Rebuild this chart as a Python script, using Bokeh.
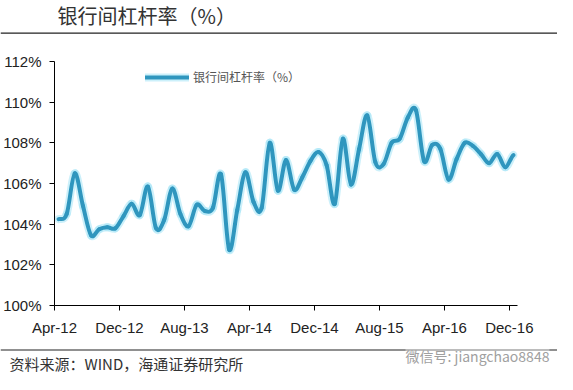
import numpy as np
from bokeh.plotting import figure
from bokeh.layouts import column
from bokeh.models import (Range1d, FixedTicker, PrintfTickFormatter, Label,
                          Span, Legend, LegendItem, ColumnDataSource)
from bokeh.embed import file_html
from bokeh.resources import INLINE

# ---- data (monthly, Apr-12 .. Dec-16) ----
values = [104.25, 104.5, 106.5, 104.9, 103.45, 103.75, 103.85, 103.8, 104.4, 105.0,
          104.45, 105.85, 103.8, 104.2, 105.75, 104.5, 103.9, 104.95, 104.65, 104.8,
          106.45, 102.75, 104.7, 106.55, 105.1, 104.8, 108.0, 105.65, 107.15, 105.7,
          106.3, 107.1, 107.55, 106.9, 105.0, 108.2, 105.95, 107.7, 109.35, 107.05,
          106.95, 108.0, 108.2, 109.25, 109.6, 107.1, 107.9, 107.7, 106.2, 107.2,
          108.0, 107.85, 107.45, 107.0, 107.45, 106.8, 107.4]
tick_labels = ["Apr-12", "Dec-12", "Aug-13", "Apr-14", "Dec-14", "Aug-15", "Apr-16", "Dec-16"]
tick_step = 8
y_ticks = [100, 102, 104, 106, 108, 110, 112]
series_name = "银行间杠杆率（%）"
title_text = "银行间杠杆率（%）"
source_text = "资料来源：WIND，海通证券研究所"
watermark_text = "微信号: jiangchao8848"

n = len(values)
xs = np.arange(n, dtype=float)
y = np.array(values, dtype=float)

# smooth curve (Catmull-Rom -> cubic Bezier segments through the data points)
yp = np.concatenate([[y[0]], y, [y[-1]]])
src = ColumnDataSource(dict(
    x0=xs[:-1], y0=y[:-1], x1=xs[1:], y1=y[1:],
    cx0=xs[:-1] + 1/3, cy0=y[:-1] + (yp[2:n+1] - yp[0:n-1]) / 6,
    cx1=xs[1:] - 1/3, cy1=y[1:] - (yp[3:n+2] - yp[1:n]) / 6,
))

W = 557
H_TOP, H_MAIN, H_BOT = 36, 302, 36


def blank(h):
    f = figure(width=W, height=h, output_backend="svg", toolbar_location=None,
               x_range=Range1d(0, W), y_range=Range1d(h, 0),
               x_axis_type=None, y_axis_type=None, frame_align=False,
               min_border=0, min_border_left=0, min_border_right=0,
               min_border_top=0, min_border_bottom=0)
    f.outline_line_color = None
    f.grid.visible = False
    f.background_fill_color = "white"
    f.border_fill_color = "white"
    return f


# ---- top: title + rule ----
top = blank(H_TOP)
top.add_layout(Label(x=57, y=15, text=title_text, text_font="Noto Sans CJK SC",
                     text_font_size="20px", text_color="#333333",
                     text_baseline="middle", text_align="left"))
top.add_layout(Span(location=32.7, dimension="width", line_color="#222222", line_width=1.2))

# ---- main chart ----
p = figure(width=W, height=H_MAIN, output_backend="svg", toolbar_location=None,
           x_range=Range1d(-0.5, n - 0.5), y_range=Range1d(100, 112), frame_align=False,
           min_border_left=54, min_border_right=40, min_border_top=25, min_border_bottom=33)
p.outline_line_color = None
p.grid.visible = False
p.background_fill_color = "white"
p.border_fill_color = "white"

glow = p.bezier(x0="x0", y0="y0", x1="x1", y1="y1", cx0="cx0", cy0="cy0",
                cx1="cx1", cy1="cy1", source=src, line_color="#a3e3f5",
                line_width=8, line_alpha=0.55, line_cap="round", line_join="round")
core = p.bezier(x0="x0", y0="y0", x1="x1", y1="y1", cx0="cx0", cy0="cy0",
                cx1="cx1", cy1="cy1", source=src, line_color="#2f96be",
                line_width=4, line_cap="round", line_join="round")

xt = [i * tick_step - 0.5 for i in range(len(tick_labels))]
p.xaxis.ticker = FixedTicker(ticks=xt)
p.xaxis.major_label_overrides = {t: lab for t, lab in zip(xt, tick_labels)}
p.yaxis.ticker = FixedTicker(ticks=y_ticks)
p.yaxis.formatter = PrintfTickFormatter(format="%d%%")
for ax in (p.xaxis[0], p.yaxis[0]):
    ax.axis_line_color = "black"
    ax.axis_line_width = 1
    ax.major_tick_line_color = "black"
    ax.major_tick_in = 0
    ax.major_tick_out = 5
    ax.minor_tick_line_color = None
    ax.major_label_text_font = "Liberation Sans"
    ax.major_label_text_font_size = "15px"
    ax.major_label_text_color = "#222222"
p.xaxis.major_label_standoff = 8
p.yaxis.major_label_standoff = 8

leg = Legend(items=[LegendItem(label=series_name, renderers=[glow, core])],
             location=(91, 220), orientation="vertical",
             padding=0, margin=0, spacing=0, glyph_width=44, glyph_height=16,
             label_height=16, label_standoff=4,
             border_line_alpha=0, background_fill_alpha=0,
             label_text_font="Noto Sans CJK SC", label_text_font_size="12px",
             label_text_color="#555555")
p.add_layout(leg, "center")

# ---- bottom: rule + source + watermark ----
bot = blank(H_BOT)
bot.add_layout(Span(location=11.5, dimension="width", line_color="#222222", line_width=1.2))
bot.add_layout(Label(x=9, y=25, text=source_text, text_font="Noto Sans CJK SC",
                     text_font_size="15px", text_color="#333333",
                     text_baseline="middle", text_align="left"))
bot.add_layout(Label(x=405, y=17, text=watermark_text, text_font="Noto Sans CJK SC",
                     text_font_size="14px", text_color="#a0a0a0",
                     text_baseline="middle", text_align="left",
                     background_fill_color="white", background_fill_alpha=0.4))

layout = column(top, p, bot, spacing=0)
open("out.html", "w").write(file_html(layout, INLINE))
